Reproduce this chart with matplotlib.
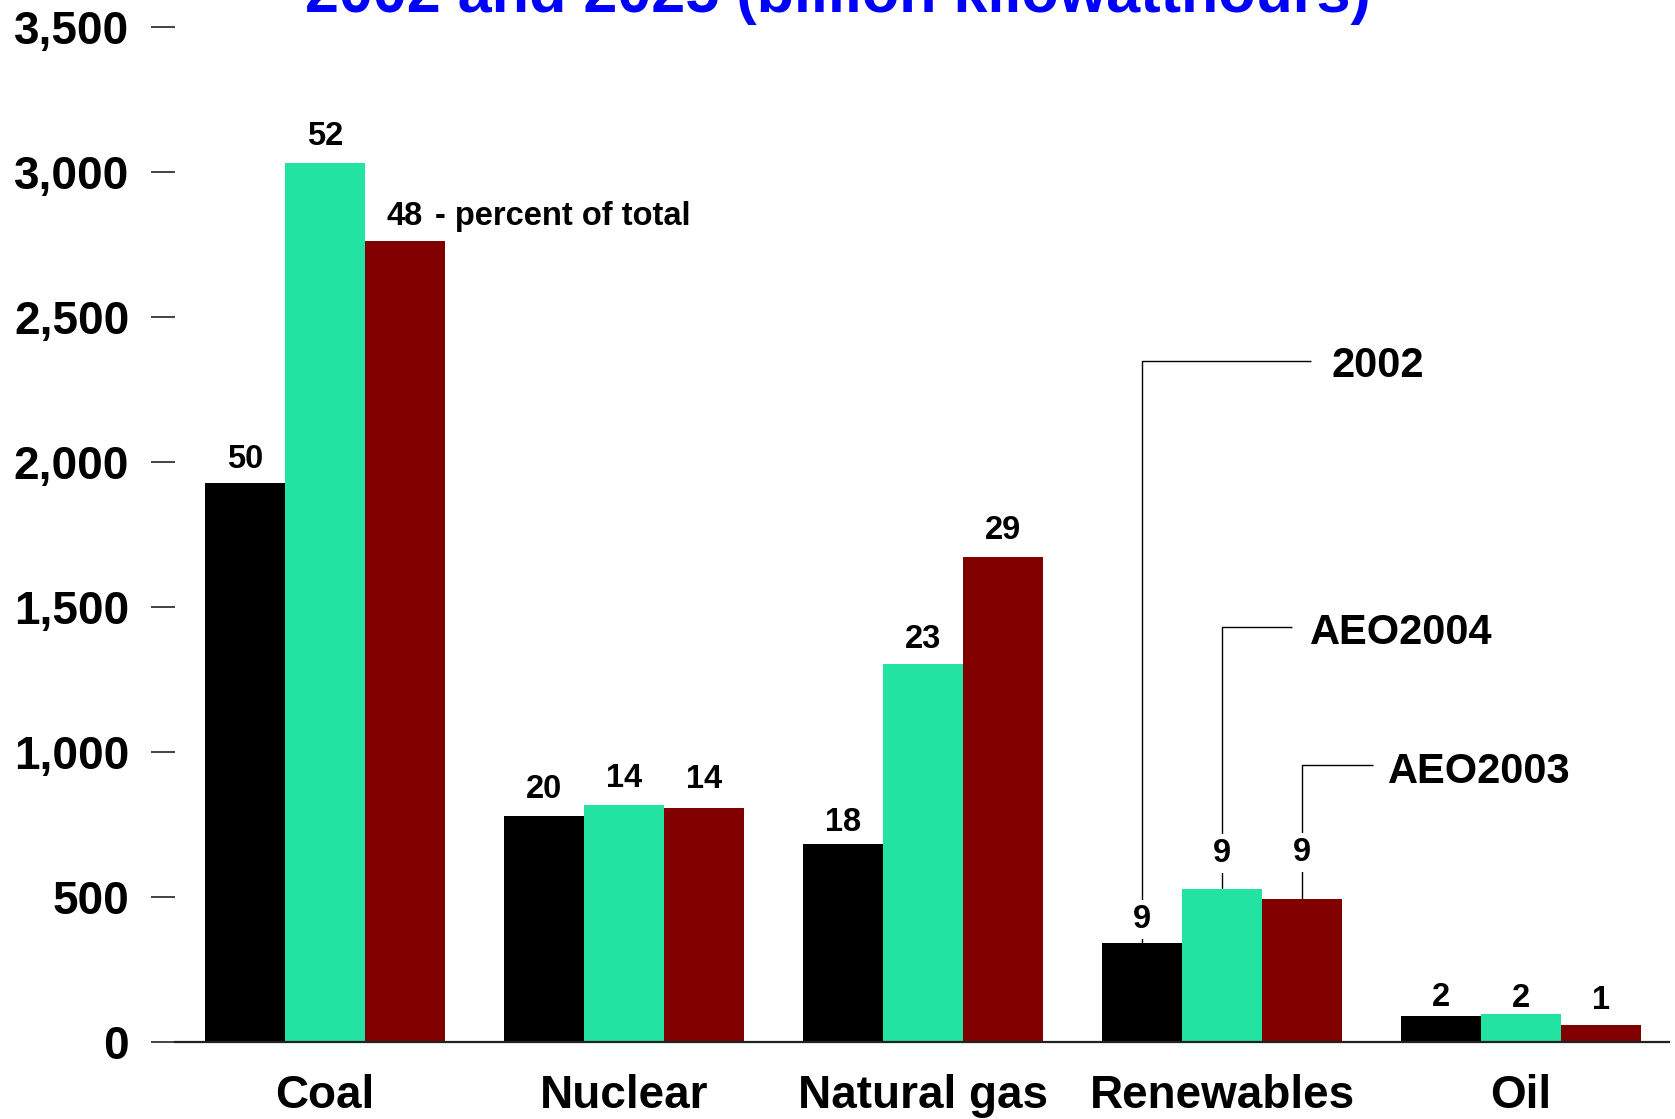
"""
Electricity generation by fuel, 2002 and 2025 (AEO2003 vs AEO2004).
Grouped bar chart with percent-of-total labels.
"""

import matplotlib
matplotlib.use('Agg')
import matplotlib.pyplot as plt
import numpy as np

# fuels on the x axis
fuels = ['Coal', 'Nuclear', 'Natural gas', 'Renewables', 'Oil']

# generation, billion kWh
gen_2002 = [1928, 780, 684, 342, 88]
gen_aeo2004 = [3030, 817, 1302, 526, 96]
gen_aeo2003 = [2760, 807, 1673, 493, 59]

# percent of total, shown above the bars
pct_2002 = [50, 20, 18, 9, 2]
pct_aeo2004 = [52, 14, 23, 9, 2]
pct_aeo2003 = [48, 14, 29, 9, 1]

series_names = ['2002', 'AEO2004', 'AEO2003']
yticks = [0, 500, 1000, 1500, 2000, 2500, 3000, 3500]

plt.rcParams['font.family'] = ['Liberation Sans', 'DejaVu Sans']
plt.rcParams['font.weight'] = 'bold'

colors = ['#000000', '#22E3A2', '#800000']
bar_w = 0.2676

fig = plt.figure(figsize=(16.75, 11.19), dpi=100)
ax = fig.add_axes([175 / 1675, 1 - 1042 / 1119, (1669 - 175) / 1675, (1042 - 26.7) / 1119])

x = np.arange(len(fuels))
series = [gen_2002, gen_aeo2004, gen_aeo2003]
pcts = [pct_2002, pct_aeo2004, pct_aeo2003]
ren = fuels.index('Renewables')
# gap between bar top and label baseline, pixels
label_gap = [[15, 18, 16], [18, 18, 20], [13, 16, 18], [15, 27, 38], [10, 7, 16]]

for k, (vals, col) in enumerate(zip(series, colors)):
    xs = x + (k - 1) * bar_w
    ax.bar(xs, vals, width=bar_w, color=col, linewidth=0, zorder=2)
    for i, (xi, v, p) in enumerate(zip(xs, vals, pcts[k])):
        # white box only where a leader line passes through the label
        box = dict(boxstyle='square,pad=0.12', fc='white', ec='none') if i == ren else None
        ax.annotate(str(p), (xi, v), xytext=(0, label_gap[i][k] * 0.72),
                    textcoords='offset points', ha='center', va='baseline',
                    fontsize=23.5, fontweight='bold', zorder=4, bbox=box)

# note next to the coal AEO2003 label
ax.annotate('- percent of total', (x[0] + bar_w, gen_aeo2003[0]),
            xytext=(30 * 0.72, label_gap[0][2] * 0.72), textcoords='offset points',
            ha='left', va='baseline', fontsize=23.5, fontweight='bold')

# leader lines from the renewables bars to the series names
corner_y = [2346, 1431, 956]
line_end = [3.298, 3.234, 3.505]
text_x = [3.365, 3.294, 3.555]
text_base = [2292, 1373, 894]
for k in range(3):
    bx = x[ren] + (k - 1) * bar_w
    top = series[k][ren]
    ax.plot([bx, bx, line_end[k]], [top, corner_y[k], corner_y[k]],
            color='black', lw=1.0, zorder=1, solid_capstyle='butt')
    ax.text(text_x[k], text_base[k], series_names[k], ha='left', va='baseline',
            fontsize=30, fontweight='bold')

ax.set_xlim(-0.502, 4.495)
ax.set_ylim(0, 3500)
ax.set_yticks(yticks)
ax.set_yticklabels([f'{t:,}' for t in yticks], fontsize=33, fontweight='bold')
ax.set_xticks(x)
ax.set_xticklabels(fuels, fontsize=33, fontweight='bold')
ax.tick_params(axis='y', length=17, width=1.2, color='#222222', pad=16)
ax.tick_params(axis='x', length=0, pad=23)

for side in ['left', 'top', 'right']:
    ax.spines[side].set_visible(False)
ax.spines['bottom'].set_linewidth(1.6)
ax.spines['bottom'].set_color('#222222')

# title sits partly above the top edge, as in the original slide
fig.text(0.5, 1 - 11.7 / 1119, '2002 and 2025 (billion kilowatthours)',
         ha='center', va='baseline', fontsize=44, fontweight='bold', color='#0000FF')

fig.savefig('out.png', dpi=100)
